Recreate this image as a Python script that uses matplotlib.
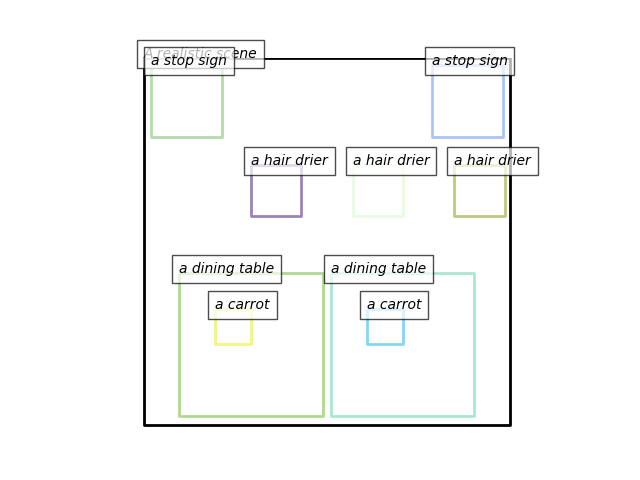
import numpy as np
import matplotlib
matplotlib.use("Agg")
import matplotlib.pyplot as plt
from matplotlib.patches import Polygon
from matplotlib.collections import PatchCollection

scene_size = 512
bg_prompt = "A realistic scene"

names = ["a stop sign", "a stop sign",
         "a hair drier", "a hair drier", "a hair drier",
         "a dining table", "a carrot", "a dining table", "a carrot"]
# x, y, w, h in image pixels
boxes = [[10, 10, 100, 100], [402, 10, 100, 100],
         [150, 150, 70, 70], [292, 150, 70, 70], [434, 150, 70, 70],
         [50, 300, 200, 200], [100, 350, 50, 50],
         [262, 300, 200, 200], [312, 350, 50, 50]]
colors = ["#b3dcab", "#aac3f5",
          "#9b83ba", "#e8fce1", "#c3c87f",
          "#b0d88e", "#f2f57f", "#a9e8d0", "#83d6f7"]


def poly_of(b):
    x, y, w, h = b
    return Polygon(np.array([[x, y], [x, y + h], [x + w, y + h], [x + w, y]]))


fig = plt.figure(figsize=(6.4, 4.8), dpi=100)
ax = plt.gca()
ax.set_xlim(-0.5, scene_size + 3.5)
ax.set_ylim(scene_size + 3.5, -0.5)
ax.set_aspect("equal")
ax.axis("off")
ax.set_autoscale_on(False)

ax.text(0, 0, bg_prompt, style="italic",
        bbox={"facecolor": "white", "alpha": 0.7, "pad": 5})

frame = PatchCollection([poly_of([0, 0, scene_size, scene_size])],
                        facecolor="none", edgecolors=["black"], linewidths=2)
ax.add_collection(frame)

polys = []
for name, b in zip(names, boxes):
    polys.append(poly_of(b))
    ax.text(b[0], b[1], name, style="italic",
            bbox={"facecolor": "white", "alpha": 0.7, "pad": 5})
p = PatchCollection(polys, facecolor="none", edgecolors=colors, linewidths=2)
ax.add_collection(p)

plt.savefig("out.png")
